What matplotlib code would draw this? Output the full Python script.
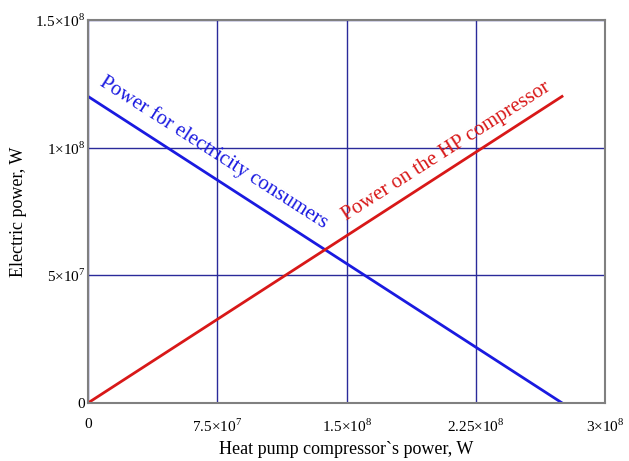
import matplotlib.pyplot as plt

plt.rcParams['font.family'] = 'Liberation Serif'
plt.rcParams['mathtext.fontset'] = 'custom'
plt.rcParams['mathtext.rm'] = 'Liberation Serif'

# compressor power, W
hp_power = [0, 2.75e8]
consumers = [1.2e8, 0]
compressor = [0, 1.2e8]

x_ticks = [0, 7.5e7, 1.5e8, 2.25e8, 3e8]
x_labels = ['0', r'7.5×10$^7$', r'1.5×10$^8$', r'2.25×10$^8$', r'3×10$^8$']
y_ticks = [0, 5e7, 1e8, 1.5e8]
y_labels = ['0', r'5×10$^7$', r'1×10$^8$', r'1.5×10$^8$']

fig = plt.figure(figsize=(6.29, 4.61), dpi=100)
ax = fig.add_axes([0.140, 0.126, 0.822, 0.831])

ax.plot(hp_power, consumers, color='#1a1ae0', lw=2)
ax.plot(hp_power, compressor, color='#d81818', lw=2)

ax.set_xlim(0, 3e8)
ax.set_ylim(0, 1.5e8)
ax.set_xticks(x_ticks)
ax.set_xticklabels(x_labels, fontsize=11)
ax.set_yticks(y_ticks)
ax.set_yticklabels(y_labels, fontsize=11)
ax.tick_params(length=0, pad=2)
ax.tick_params(axis='x', pad=11)
ax.grid(True, color='#2a2a9a', lw=1)
for s in ax.spines.values():
    s.set_color('#808080')
    s.set_linewidth(1.5)

ax.set_xlabel("Heat pump compressor`s power, W", fontsize=13, labelpad=4)
ax.set_ylabel("Electric power, W", fontsize=13, labelpad=6)

ax.text(7.3e7, 9.8e7, 'Power for electricity consumers', color='#1a1ae0',
        fontsize=15, rotation=-32.6, ha='center', va='center')
ax.text(2.08e8, 9.85e7, 'Power on the HP compressor', color='#d81818',
        fontsize=15, rotation=32.6, ha='center', va='center')

plt.savefig('out.png', format='png')
